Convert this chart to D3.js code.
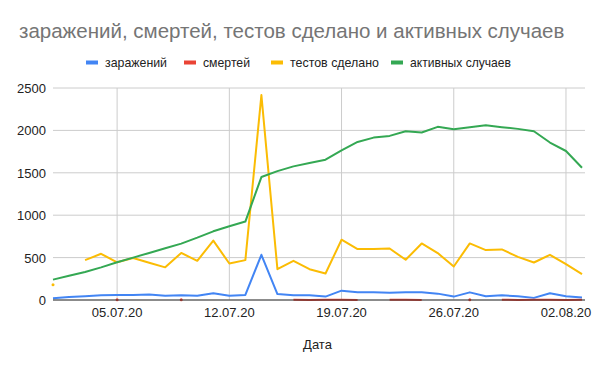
<!DOCTYPE html>
<html>
<head>
<meta charset="utf-8">
<script src="https://cdn.jsdelivr.net/npm/d3@7"></script>
<style>
  body { margin: 0; background: #fff; }
  svg { font-family: "Liberation Sans", Arial, sans-serif; }
</style>
</head>
<body>
<div id="chart"></div>
<script>
// dates 01.07.20 .. 03.08.20
const dates = d3.range(34).map(i => new Date(2020, 6, 1 + i));

const infections = [20, 35, 45, 55, 60, 60, 65, 50, 55, 50, 80, 50, 60, 533, 70, 55, 55, 40,
  110, 90, 90, 85, 90, 90, 75, 40, 90, 45, 55, 45, 25, 80, 45, 30];
const deaths = [null, null, null, null, 2, null, null, null, 3, null, null, null, null, null, null,
  2, 1, 3, 2, 1, null, 2, 3, 1, null, null, 4, null, 2, 1, 3, 2, 1, 2];
const tests = [180, null, 470, 545, 445, 495, 440, 385, 555, 462, 700, 430, 470, 2417, 363, 462,
  363, 312, 711, 600, 600, 608, 474, 667, 553, 395, 667, 589, 596, 509, 442, 533, 423, 304];
const active = [240, 285, 330, 385, 445, 500, 555, 610, 665, 735, 810, 870, 925, 1450, 1520, 1576,
  1615, 1655, 1765, 1864, 1915, 1935, 1990, 1975, 2042, 2014, 2038, 2062, 2038, 2018, 1990, 1857,
  1757, 1560];

const seriesNames = ["заражений", "смертей", "тестов сделано", "активных случаев"];
const seriesColors = ["#4285f4", "#ea4335", "#fbbc04", "#34a853"];
const seriesValues = [infections, deaths, tests, active];

const yTicks = [0, 500, 1000, 1500, 2000, 2500];
const xTicks = [new Date(2020, 6, 5), new Date(2020, 6, 12), new Date(2020, 6, 19),
  new Date(2020, 6, 26), new Date(2020, 7, 2)];
const fmtDate = d3.timeFormat("%d.%m.%y");

const title = "заражений, смертей, тестов сделано и активных случаев";
const xTitle = "Дата";

const width = 600, height = 371;
const M = { left: 53, right: 18, top: 88, bottom: 71 };

const svg = d3.select("#chart").append("svg")
  .attr("width", width).attr("height", height);

const x = d3.scaleTime()
  .domain(d3.extent(dates))
  .range([M.left, width - M.right]);
const y = d3.scaleLinear()
  .domain([0, 2500])
  .range([height - M.bottom, M.top]);

// gridlines
svg.append("g").selectAll("line.hg").data(yTicks).join("line")
  .attr("x1", M.left).attr("x2", width - M.right + 3)
  .attr("y1", d => y(d)).attr("y2", d => y(d))
  .attr("stroke", "#cccccc").attr("stroke-width", 1);
svg.append("g").selectAll("line.vg").data(xTicks).join("line")
  .attr("x1", d => x(d)).attr("x2", d => x(d))
  .attr("y1", y(2500)).attr("y2", y(0))
  .attr("stroke", "#cccccc").attr("stroke-width", 1);

// y labels
svg.append("g").selectAll("text").data(yTicks).join("text")
  .attr("x", M.left - 7).attr("y", d => y(d) + 5)
  .attr("text-anchor", "end")
  .attr("font-size", 13).attr("fill", "#222")
  .text(d => d);

// x labels
svg.append("g").selectAll("text").data(xTicks).join("text")
  .attr("x", d => x(d)).attr("y", y(0) + 17)
  .attr("text-anchor", "middle")
  .attr("font-size", 13).attr("fill", "#222")
  .text(d => fmtDate(d));

// series
const line = d3.line()
  .defined(d => d.v != null)
  .x(d => x(d.date))
  .y(d => y(d.v));

seriesValues.forEach((vals, k) => {
  const pts = vals.map((v, i) => ({ date: dates[i], v }));
  svg.append("path")
    .datum(pts)
    .attr("fill", "none")
    .attr("stroke", seriesColors[k])
    .attr("stroke-width", 2)
    .attr("stroke-linejoin", "round")
    .attr("d", line);
  // isolated points (neighbours missing)
  const lone = pts.filter((d, i) => d.v != null &&
    (i === 0 || pts[i - 1].v == null) && (i === pts.length - 1 || pts[i + 1].v == null));
  svg.append("g").selectAll("circle").data(lone).join("circle")
    .attr("cx", d => x(d.date)).attr("cy", d => y(d.v))
    .attr("r", 1.5).attr("fill", seriesColors[k]);
});

// baseline
svg.append("line")
  .attr("x1", M.left).attr("x2", width - M.right + 3)
  .attr("y1", y(0)).attr("y2", y(0))
  .attr("stroke", "#333").attr("stroke-width", 1);

// title
svg.append("text")
  .attr("x", 19).attr("y", 38)
  .attr("font-size", 20.5).attr("fill", "#757575")
  .text(title);

// legend
const legendX = [86, 184, 271, 391];
const legendW = [62, 47, 89, 101];
const lg = svg.append("g").selectAll("g").data(seriesNames).join("g")
  .attr("transform", (d, i) => `translate(${legendX[i]},62.5)`);
lg.append("rect").attr("x", 0).attr("y", -2).attr("width", 12).attr("height", 4)
  .attr("fill", (d, i) => seriesColors[i]);
lg.append("text").attr("x", 19).attr("y", 4.5)
  .attr("font-size", 13).attr("fill", "#222")
  .attr("textLength", (d, i) => legendW[i]).attr("lengthAdjust", "spacingAndGlyphs")
  .text(d => d);

// axis title
svg.append("text")
  .attr("x", (M.left + width - M.right) / 2).attr("y", 349)
  .attr("text-anchor", "middle")
  .attr("font-size", 13).attr("fill", "#222")
  .text(xTitle);
</script>
</body>
</html>
